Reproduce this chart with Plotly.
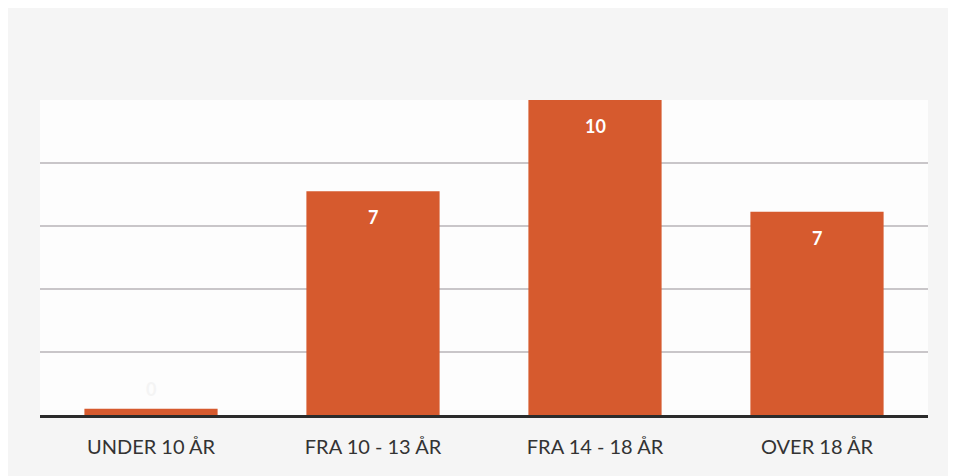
import plotly.graph_objects as go

categories = ["UNDER 10 ÅR", "FRA 10 - 13 ÅR", "FRA 14 - 18 ÅR", "OVER 18 ÅR"]
values = [0.2, 7.1, 10, 6.45]
labels = ["0", "7", "10", "7"]

bar_color = "#D65A2E"
font_family = "Lato, 'Open Sans', sans-serif"

fig = go.Figure()
fig.add_trace(go.Bar(
    x=categories, y=values,
    marker=dict(color=bar_color, line=dict(width=0)),
    hoverinfo="skip",
))

for c, v, lab in zip(categories, values, labels):
    small = v < 1
    fig.add_annotation(
        x=c, y=v, xref="x", yref="y", text=f"<b>{lab}</b>", showarrow=False,
        yanchor="bottom" if small else "top",
        yshift=7 if small else -13,
        font=dict(family=font_family, size=18, color="#f4f4f4" if small else "white"),
    )

fig.update_layout(
    width=948, height=468,
    margin=dict(l=32, r=28, t=92, b=61),
    paper_bgcolor="#f5f5f5",
    plot_bgcolor="#fdfdfd",
    bargap=0.4,
    showlegend=False,
    font=dict(family=font_family, size=20, color="#333333"),
    xaxis=dict(
        showgrid=False, zeroline=False, showline=True,
        linecolor="#2b2b2b", linewidth=3,
        ticks="", ticklabelstandoff=12,
        tickfont=dict(family=font_family, size=20, color="#333333"),
    ),
    yaxis=dict(
        range=[0, 10], dtick=2, showticklabels=False,
        showgrid=True, gridcolor="#c9c6c9", gridwidth=1.5,
        zeroline=False, showline=False,
    ),
)

fig.write_html("out.html")
